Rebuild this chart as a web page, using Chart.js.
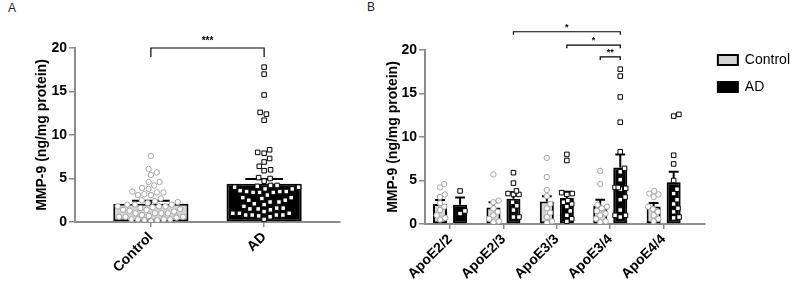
<!DOCTYPE html>
<html>
<head>
<meta charset="utf-8">
<script src="https://cdn.jsdelivr.net/npm/chart.js@4.4.1/dist/chart.umd.min.js"></script>
<style>
  body { margin: 0; background: #fff; overflow: hidden; width: 800px; height: 283px; position: relative;
         font-family: "Liberation Sans", Arial, sans-serif; }
  canvas { position: absolute; top: 0; }
  #chartA { left: 0; }
  #chartB { left: 370px; }
  .tag { position: absolute; font-size: 12px; color: #222; }
</style>
</head>
<body>
<div class="tag" style="left:8px;top:1px">A</div>
<div class="tag" style="left:367px;top:0px">B</div>
<canvas id="chartA" width="360" height="283"></canvas>
<canvas id="chartB" width="430" height="283"></canvas>
<script>
// categories
const categoriesA = ['Control', 'AD'];
const genotypes = ['ApoE2/2', 'ApoE2/3', 'ApoE3/3', 'ApoE3/4', 'ApoE4/4'];
const yTicks = [0, 5, 10, 15, 20];

// single samples (ng/mg protein), per genotype
const ctrlE22 = [4.6, 4.2, 3.4, 3.1, 2.4, 2.0, 1.6, 1.0, 0.7, 0.5];
const ctrlE23 = [5.7, 2.7, 2.5, 1.8, 1.4, 1.0, 0.6, 0.3, 0.2];
const ctrlE33 = [7.6, 5.4, 3.9, 3.2, 2.3, 1.8, 1.3, 0.8, 0.3, 0.1];
const ctrlE34 = [6.1, 4.6, 2.2, 2.0, 1.8, 1.5, 1.2, 1.0, 0.6, 0.3, 0.2];
const ctrlE44 = [3.8, 3.5, 3.4, 3.1, 2.0, 1.7, 1.4, 1.0, 0.6, 0.3];
const adE22 = [3.8, 1.5, 1.2];
const adE23 = [5.9, 4.7, 3.8, 3.5, 3.4, 3.4, 2.5, 2.1, 1.6, 0.8, 0.8];
const adE33 = [8.0, 7.3, 3.6, 3.5, 3.4, 2.7, 2.5, 2.3, 2.0, 1.5, 1.0, 0.6, 0.3];
const adE34 = [17.8, 17.0, 14.6, 11.7, 8.3, 6.4, 6.0, 5.1, 4.2, 4.2, 4.1, 4.0, 3.1, 2.8, 1.6, 1.0, 1.0, 0.8];
const adE44 = [12.6, 12.4, 7.9, 6.9, 5.0, 4.0, 3.5, 2.8, 2.3, 1.8, 1.4, 0.8, 0.7];

// bar heights (mean) and error bars (SEM)
const meanA = [2.1, 4.4];
const semA = [0.35, 0.55];
const meanCtrlB = [2.3, 1.9, 2.6, 2.1, 2.0];
const semCtrlB = [0.45, 0.6, 0.6, 0.7, 0.4];
const meanAdB = [2.2, 2.9, 3.0, 6.5, 4.8];
const semAdB = [0.85, 0.75, 0.7, 1.5, 1.2];

const ctrlB = [ctrlE22, ctrlE23, ctrlE33, ctrlE34, ctrlE44];
const adB = [adE22, adE23, adE33, adE34, adE44];

const FONT = '"Liberation Sans", Arial, sans-serif';
const AXIS = '#8c8c8c';
const CTRL_FILL = '#d4d4d4';
const tickFont = { family: FONT, size: 14, weight: 'bold' };
Chart.defaults.font.family = FONT;

// simple beeswarm so dots do not overlap (kept inside +-maxHalf px)
function swarm(values, center, pxX, pxY, gap, maxHalf) {
  const placed = [];
  values.slice().sort((a, b) => a - b).forEach(v => {
    const py = v * pxY;
    const near = placed.filter(p => Math.abs(p.py - py) < gap);
    const cands = [0];
    near.forEach(p => {
      const dx = Math.sqrt(gap * gap - (p.py - py) * (p.py - py));
      cands.push(p.px + dx, p.px - dx);
    });
    cands.sort((a, b) => Math.abs(a) - Math.abs(b));
    let px = cands.find(c => Math.abs(c) <= maxHalf &&
      near.every(p => Math.hypot(p.px - c, p.py - py) >= gap - 0.01));
    if (px === undefined) {
      // no free slot: take the least crowded spot in the band
      let best = -1;
      for (let c = -maxHalf; c <= maxHalf; c += 1) {
        const d = Math.min(...near.map(p => Math.hypot(p.px - c, p.py - py)));
        if (d > best) { best = d; px = c; }
      }
    }
    placed.push({ px, py, v });
  });
  return placed.map(p => ({ x: center + p.px / pxX, y: p.v }));
}

const errorBarPlugin = {
  id: 'errorBars',
  afterDatasetDraw(chart, args, opts) {
    const ds = chart.data.datasets[args.index];
    if (!ds.sem) return;
    const ctx = chart.ctx, y = chart.scales.y;
    ctx.save();
    ctx.strokeStyle = '#000';
    ctx.lineWidth = 2;
    args.meta.data.forEach((bar, i) => {
      const top = y.getPixelForValue(ds.data[i].y + ds.sem[i]);
      const half = bar.width * opts.cap / 2;
      ctx.beginPath();
      ctx.moveTo(bar.x, bar.y);
      ctx.lineTo(bar.x, top);
      ctx.moveTo(bar.x - half, top);
      ctx.lineTo(bar.x + half, top);
      ctx.stroke();
    });
    ctx.restore();
  }
};

const bracketPlugin = {
  id: 'brackets',
  afterDraw(chart, args, opts) {
    const ctx = chart.ctx, y = chart.scales.y;
    ctx.save();
    ctx.strokeStyle = '#000';
    ctx.fillStyle = '#000';
    ctx.lineWidth = 1.2;
    ctx.font = 'bold ' + opts.size + 'px ' + FONT;
    ctx.textAlign = 'center';
    ctx.textBaseline = 'alphabetic';
    opts.list.forEach(b => {
      const x1 = chart.getDatasetMeta(b.from[0]).data[b.from[1]].x;
      const x2 = chart.getDatasetMeta(b.to[0]).data[b.to[1]].x;
      const py = y.getPixelForValue(b.level);
      ctx.beginPath();
      ctx.moveTo(x1, py + opts.tip);
      ctx.lineTo(x1, py);
      ctx.lineTo(x2, py);
      ctx.lineTo(x2, py + opts.tip);
      ctx.stroke();
      ctx.fillText(b.text, (x1 + x2) / 2, py - opts.gap);
    });
    ctx.restore();
  }
};

function yAxis(width, titlePad) {
  return {
    min: 0, max: 20,
    afterFit: s => { s.width = width; },
    afterBuildTicks: s => { s.ticks = yTicks.map(v => ({ value: v })); },
    ticks: { color: '#000', font: tickFont, padding: 2 },
    grid: { drawOnChartArea: false, color: AXIS, lineWidth: 1.5, tickLength: 6 },
    border: { color: AXIS, width: 2 },
    title: { display: true, text: 'MMP-9 (ng/mg protein)', color: '#000', font: tickFont,
             padding: { top: titlePad, bottom: 0 } }
  };
}

function xAxis(labels, min, max, height) {
  return {
    type: 'linear', min: min, max: max, offset: false,
    afterFit: s => { s.height = height; },
    afterBuildTicks: s => { s.ticks = labels.map((l, i) => ({ value: i + 1 })); },
    ticks: { color: '#000', font: tickFont, minRotation: 45, maxRotation: 45, autoSkip: false, padding: 2,
             callback: v => labels[v - 1] },
    grid: { drawOnChartArea: false, offset: false, color: AXIS, lineWidth: 1.5, tickLength: 5 },
    border: { color: AXIS, width: 2 }
  };
}

function dots(data, ctrl) {
  return {
    type: 'scatter', data: data, order: 1,
    pointStyle: ctrl ? 'circle' : 'rect',
    pointRadius: ctrl ? 2.7 : 3.2,
    backgroundColor: '#fff',
    borderColor: ctrl ? '#a6a6a6' : '#000',
    pointBorderWidth: 1
  };
}

// Panel A
new Chart(document.getElementById('chartA'), {
  type: 'bar',
  data: {
    datasets: [
      {
        label: 'MMP-9',
        data: categoriesA.map((c, i) => ({ x: i + 1, y: meanA[i] })),
        sem: semA,
        backgroundColor: [CTRL_FILL, '#000'],
        borderColor: '#000', borderWidth: 2, borderSkipped: false,
        categoryPercentage: 0.8, barPercentage: 0.83, order: 2
      },
      dots(swarm(ctrlB.flat(), 1, 113, 8.7, 6.5, 36), true),
      dots(swarm(adB.flat(), 2, 113, 8.7, 6.5, 36), false)
    ]
  },
  options: {
    responsive: false, animation: false, events: [],
    layout: { padding: { top: 48, right: 20, left: 0, bottom: 0 } },
    scales: { x: xAxis(categoriesA, 0.33, 2.67, 61), y: yAxis(75, 33.5) },
    plugins: {
      legend: { display: false }, tooltip: { enabled: false },
      errorBars: { cap: 0.5 },
      brackets: { size: 10, tip: 9, gap: 4, list: [{ from: [0, 0], to: [0, 1], level: 20, text: '***' }] }
    }
  },
  plugins: [errorBarPlugin, bracketPlugin]
});

// Panel B
const shift = 0.75 / 4;
new Chart(document.getElementById('chartB'), {
  type: 'bar',
  data: {
    datasets: [
      {
        label: 'Control',
        data: genotypes.map((g, i) => ({ x: i + 1, y: meanCtrlB[i] })),
        sem: semCtrlB,
        backgroundColor: CTRL_FILL, borderColor: '#000', borderWidth: 2, borderSkipped: false,
        categoryPercentage: 0.75, barPercentage: 0.7, order: 2
      },
      {
        label: 'AD',
        data: genotypes.map((g, i) => ({ x: i + 1, y: meanAdB[i] })),
        sem: semAdB,
        backgroundColor: '#000', borderColor: '#000', borderWidth: 2, borderSkipped: false,
        categoryPercentage: 0.75, barPercentage: 0.7, order: 2
      },
      dots(ctrlB.flatMap((vals, g) => swarm(vals, g + 1 - shift, 53.3, 8.7, 5.5, 7)), true),
      dots(adB.flatMap((vals, g) => swarm(vals, g + 1 + shift, 53.3, 8.7, 5.5, 7)), false)
    ]
  },
  options: {
    responsive: false, animation: false, events: [],
    layout: { padding: { top: 40, right: 0, left: 0, bottom: 0 } },
    scales: { x: xAxis(genotypes, 0.531, 5.772, 59), y: yAxis(55, 14.5) },
    plugins: {
      title: { display: true, text: '', padding: 0, font: { size: 10, lineHeight: 1 } },
      legend: {
        position: 'right', align: 'start',
        labels: { boxWidth: 20, boxHeight: 10, padding: 13, color: '#000', font: { family: FONT, size: 14 },
                  filter: item => item.datasetIndex < 2 }
      },
      tooltip: { enabled: false },
      errorBars: { cap: 0.7 },
      brackets: {
        size: 9, tip: 3, gap: 2,
        list: [
          { from: [1, 1], to: [1, 3], level: 22.1, text: '*' },
          { from: [1, 2], to: [1, 3], level: 20.55, text: '*' },
          { from: [0, 3], to: [1, 3], level: 19.2, text: '**' }
        ]
      }
    }
  },
  plugins: [errorBarPlugin, bracketPlugin]
});
</script>
</body>
</html>
